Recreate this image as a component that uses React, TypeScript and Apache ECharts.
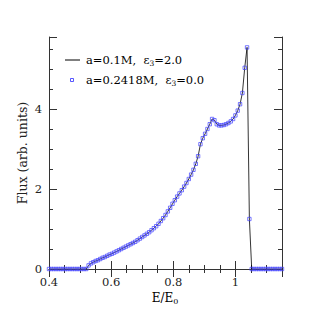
import React, { useEffect, useRef } from "react";
import * as echarts from "echarts";

const energy = [
  0.4, 0.4075, 0.415, 0.4225, 0.43, 0.4375, 0.445, 0.4525, 0.46, 0.4675,
  0.475, 0.4825, 0.49, 0.4975, 0.505, 0.5125, 0.52, 0.5275, 0.535, 0.5425,
  0.55, 0.5575, 0.565, 0.5725, 0.58, 0.5875, 0.595, 0.6025, 0.61, 0.6175,
  0.625, 0.6325, 0.64, 0.6475, 0.655, 0.6625, 0.67, 0.6775, 0.685, 0.6925,
  0.7, 0.7075, 0.715, 0.7225, 0.73, 0.7375, 0.745, 0.7525, 0.76, 0.7675,
  0.775, 0.7825, 0.79, 0.7975, 0.805, 0.8125, 0.82, 0.8275, 0.835, 0.8425,
  0.85, 0.8575, 0.865, 0.8725, 0.88, 0.8875, 0.895, 0.9025, 0.91, 0.9175,
  0.925, 0.9325, 0.94, 0.9475, 0.955, 0.9625, 0.97, 0.9775, 0.985, 0.9925,
  1.0, 1.0075, 1.015, 1.0225, 1.03, 1.0375, 1.045, 1.0525, 1.06, 1.0675,
  1.075, 1.0825, 1.09, 1.0975, 1.105, 1.1125, 1.12, 1.1275, 1.135, 1.1425,
  1.15,
];

// a=0.1M, eps3=2.0 (line)
const fluxModelA = [
  0, 0, 0, 0, 0, 0, 0, 0, 0, 0,
  0, 0, 0, 0, 0, 0, 0, 0.09, 0.14, 0.17,
  0.2, 0.22, 0.25, 0.28, 0.3, 0.33, 0.36, 0.38, 0.41, 0.44,
  0.47, 0.5, 0.53, 0.56, 0.59, 0.62, 0.65, 0.68, 0.72, 0.76,
  0.8, 0.84, 0.88, 0.92, 0.97, 1.02, 1.07, 1.13, 1.2, 1.27,
  1.35, 1.44, 1.53, 1.63, 1.72, 1.81, 1.89, 1.97, 2.06, 2.15,
  2.25, 2.36, 2.48, 2.63, 2.82, 3.12, 3.27, 3.38, 3.5, 3.62,
  3.75, 3.72, 3.62, 3.59, 3.59, 3.6, 3.62, 3.65, 3.69, 3.75,
  3.84, 3.96, 4.12, 4.4, 5.03, 5.54, 1.25, 0, 0, 0,
  0, 0, 0, 0, 0, 0, 0, 0, 0, 0,
  0,
];

// a=0.2418M, eps3=0.0 (squares)
const fluxModelB = [
  0, 0, 0, 0, 0, 0, 0, 0, 0, 0,
  0, 0, 0, 0, 0, 0, 0, 0.09, 0.14, 0.17,
  0.2, 0.22, 0.25, 0.28, 0.3, 0.33, 0.36, 0.38, 0.41, 0.44,
  0.47, 0.5, 0.53, 0.56, 0.59, 0.62, 0.65, 0.68, 0.72, 0.76,
  0.8, 0.84, 0.88, 0.92, 0.97, 1.02, 1.07, 1.13, 1.2, 1.27,
  1.35, 1.44, 1.53, 1.63, 1.72, 1.81, 1.89, 1.97, 2.06, 2.15,
  2.25, 2.36, 2.48, 2.63, 2.82, 3.12, 3.27, 3.38, 3.5, 3.62,
  3.75, 3.72, 3.62, 3.59, 3.59, 3.6, 3.62, 3.65, 3.69, 3.75,
  3.84, 3.96, 4.12, 4.4, 5.03, 5.54, 1.25, 0, 0, 0,
  0, 0, 0, 0, 0, 0, 0, 0, 0, 0,
  0,
];

const FONT = "DejaVu Serif";
const AXIS_COLOR = "#333";
const BLUE = "#4444ff";

export default function App() {
  const ref = useRef<HTMLDivElement>(null);

  useEffect(() => {
    if (!ref.current) return;
    const chart = echarts.init(ref.current, undefined, { renderer: "svg" });

    const lineData = energy.map((e, i) => [e, fluxModelA[i]]);
    const squareData = energy.map((e, i) => [e, fluxModelB[i]]);

    const baseX = {
      type: "value" as const,
      min: 0.4,
      max: 1.15,
      interval: 0.2,
      axisLine: { show: true, lineStyle: { color: AXIS_COLOR, width: 1 } },
      axisTick: { show: true, inside: true, length: 8, lineStyle: { color: AXIS_COLOR } },
      minorTick: { show: true, splitNumber: 4, length: 4, lineStyle: { color: AXIS_COLOR } },
      splitLine: { show: false },
    };
    const baseY = {
      type: "value" as const,
      min: 0,
      max: 5.8,
      interval: 2,
      axisLine: { show: true, lineStyle: { color: AXIS_COLOR, width: 1 } },
      axisTick: { show: true, inside: true, length: 8, lineStyle: { color: AXIS_COLOR } },
      minorTick: { show: true, splitNumber: 4, length: 4, lineStyle: { color: AXIS_COLOR } },
      splitLine: { show: false },
    };

    const subRich = {
      t: { fontFamily: FONT, fontSize: 11.5, color: "#222", lineHeight: 14 },
      s: { fontFamily: FONT, fontSize: 7.5, color: "#222", lineHeight: 8, verticalAlign: "bottom" as const },
    };

    chart.setOption({
      animation: false,
      grid: { left: 49, right: 37, top: 37, bottom: 50, containLabel: false },
      xAxis: [
        {
          ...baseX,
          position: "bottom",
          axisLabel: {
            show: true,
            margin: 7,
            fontFamily: FONT,
            fontSize: 11.5,
            color: "#222",
            showMaxLabel: false,
            formatter: (v: number) => String(parseFloat(v.toFixed(2))),
          },
        },
        { ...baseX, position: "top", axisLabel: { show: false } },
      ],
      yAxis: [
        {
          ...baseY,
          position: "left",
          axisLabel: {
            show: true,
            margin: 7,
            fontFamily: FONT,
            fontSize: 11.5,
            color: "#222",
            showMaxLabel: false,
          },
        },
        { ...baseY, position: "right", axisLabel: { show: false } },
      ],
      series: [
        {
          type: "line",
          data: lineData,
          showSymbol: false,
          symbol: "none",
          lineStyle: { color: "#000", width: 0.8 },
          z: 2,
        },
        {
          type: "scatter",
          data: squareData,
          symbol: "rect",
          symbolSize: 3.4,
          itemStyle: { color: "rgba(255,255,255,0)", borderColor: BLUE, borderWidth: 0.9 },
          z: 3,
        },
      ],
      graphic: [
        {
          type: "line",
          shape: { x1: 65, y1: 60, x2: 80, y2: 60 },
          style: { stroke: "#000", lineWidth: 1 },
        },
        {
          type: "rect",
          shape: { x: 70.5, y: 78.5, width: 3, height: 3 },
          style: { fill: "none", stroke: BLUE, lineWidth: 0.9 },
        },
        {
          type: "text",
          x: 86,
          y: 60,
          style: {
            text: "{t|a=0.1M,  ε}{s|3}{t|=2.0}",
            rich: subRich,
            verticalAlign: "middle",
            align: "left",
          },
        },
        {
          type: "text",
          x: 86,
          y: 80,
          style: {
            text: "{t|a=0.2418M,  ε}{s|3}{t|=0.0}",
            rich: subRich,
            verticalAlign: "middle",
            align: "left",
          },
        },
        {
          type: "text",
          x: 22,
          y: 153,
          rotation: Math.PI / 2,
          style: {
            text: "Flux (arb. units)",
            fontFamily: FONT,
            fontSize: 12.5,
            fill: "#222",
            align: "center",
            verticalAlign: "middle",
          },
        },
        {
          type: "text",
          x: 165,
          y: 298,
          style: {
            text: "{t|E/E}{s|0}",
            rich: {
              t: { fontFamily: FONT, fontSize: 12, color: "#222", lineHeight: 15 },
              s: { fontFamily: FONT, fontSize: 8, color: "#222", lineHeight: 9, verticalAlign: "bottom" },
            },
            align: "center",
            verticalAlign: "middle",
          },
        },
      ],
    });

    return () => chart.dispose();
  }, []);

  return (
    <div
      ref={ref}
      style={{ position: "fixed", left: 0, top: 0, width: 319, height: 319, background: "#fff" }}
    />
  );
}
